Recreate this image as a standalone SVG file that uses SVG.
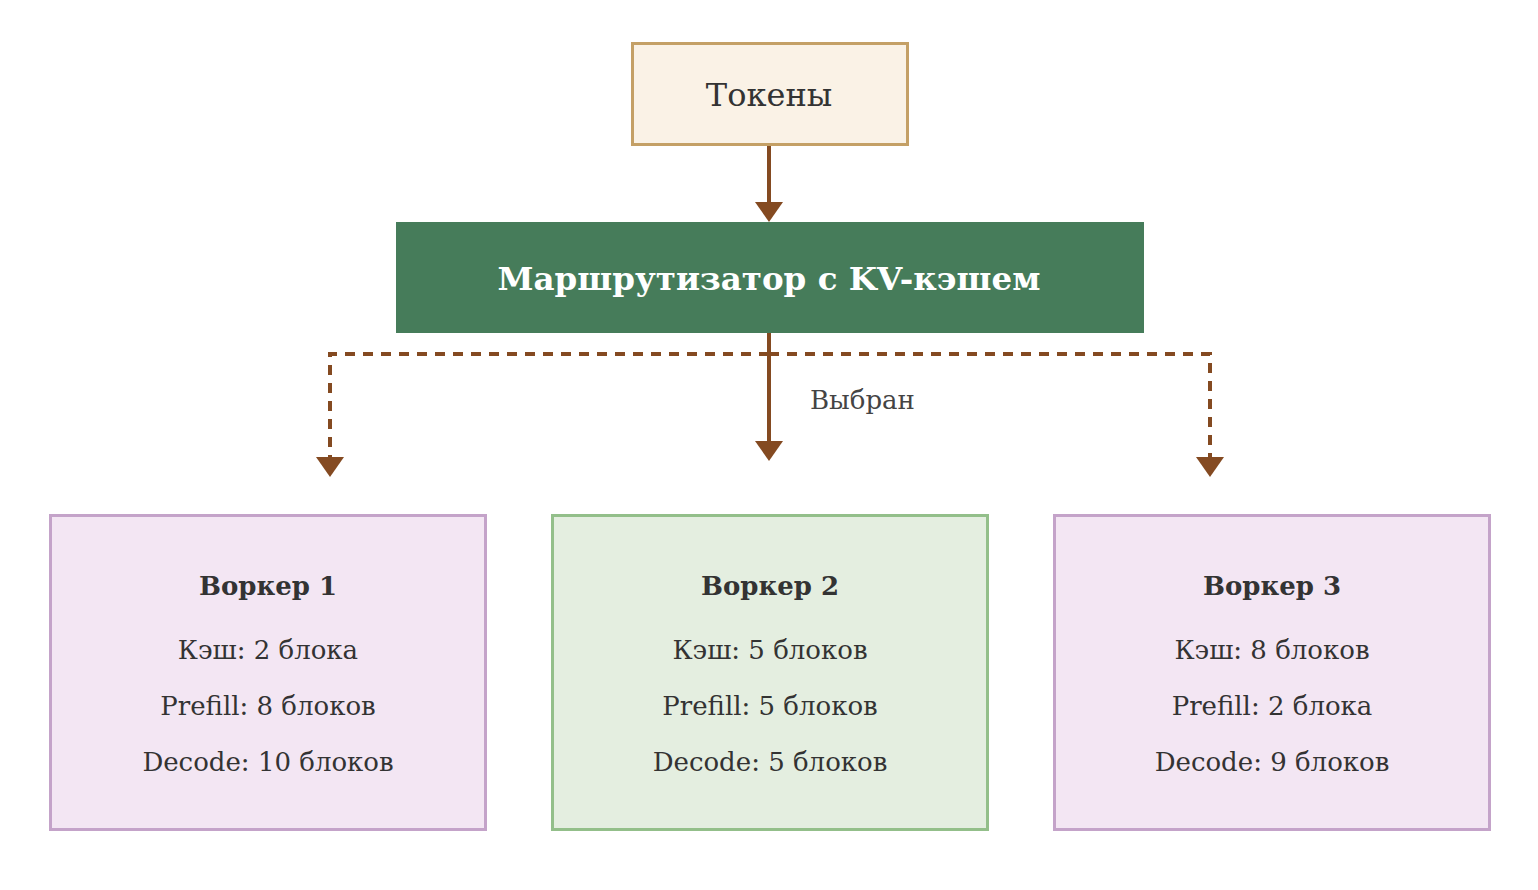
<svg xmlns="http://www.w3.org/2000/svg" width="1538" height="890" viewBox="0 0 1538 890">
<style>
text{font-family:"DejaVu Serif","Liberation Serif",serif;fill:#333;text-anchor:middle}
.t{font-size:32px}
.r{font-size:32.5px;font-weight:bold;fill:#fff}
.h{font-size:26px;font-weight:bold}
.l{font-size:26px}
.lab{font-size:26px;text-anchor:start;fill:#444}
.purple{fill:#f3e6f3;stroke:#c4a3c9;stroke-width:3}
.green{fill:#e4eee0;stroke:#93bf8a;stroke-width:3}
.c{stroke:#844a21;stroke-width:4;fill:none}
.d{stroke-dasharray:10 8}
</style>
<defs>
<marker id="ah" markerUnits="userSpaceOnUse" markerWidth="20" markerHeight="28" refX="0" refY="14" orient="auto" viewBox="0 0 20 28">
<path d="M0,0 L20,14 L0,28 Z" fill="#844a21"/>
</marker>
</defs>
<g id="connectors">
<path class="c" d="M769,145 V202" marker-end="url(#ah)"/>
<path class="c" d="M769,333 V441" marker-end="url(#ah)"/>
<path class="c d" d="M769,354 H330 V457" marker-end="url(#ah)"/>
<path class="c d" d="M769,354 H1210 V457" marker-end="url(#ah)"/>
<text class="lab" x="810" y="409">Выбран</text>
</g>
<g id="tokens">
<rect x="632.5" y="43.5" width="275" height="101" fill="#faf2e6" stroke="#c4a066" stroke-width="3"/>
<text class="t" x="769" y="106">Токены</text>
</g>
<g id="router">
<rect x="396" y="222" width="748" height="111" fill="#467c5a"/>
<text class="r" x="769" y="290">Маршрутизатор с KV-кэшем</text>
</g>
<g id="worker1">
<rect class="purple" x="50.5" y="515.5" width="435" height="314"/>
<text class="h" x="268" y="595">Воркер 1</text>
<text class="l" x="268" y="659">Кэш: 2 блока</text>
<text class="l" x="268" y="715">Prefill: 8 блоков</text>
<text class="l" x="268" y="771">Decode: 10 блоков</text>
</g>
<g id="worker2">
<rect class="green" x="552.5" y="515.5" width="435" height="314"/>
<text class="h" x="770" y="595">Воркер 2</text>
<text class="l" x="770" y="659">Кэш: 5 блоков</text>
<text class="l" x="770" y="715">Prefill: 5 блоков</text>
<text class="l" x="770" y="771">Decode: 5 блоков</text>
</g>
<g id="worker3">
<rect class="purple" x="1054.5" y="515.5" width="435" height="314"/>
<text class="h" x="1272" y="595">Воркер 3</text>
<text class="l" x="1272" y="659">Кэш: 8 блоков</text>
<text class="l" x="1272" y="715">Prefill: 2 блока</text>
<text class="l" x="1272" y="771">Decode: 9 блоков</text>
</g>
</svg>
